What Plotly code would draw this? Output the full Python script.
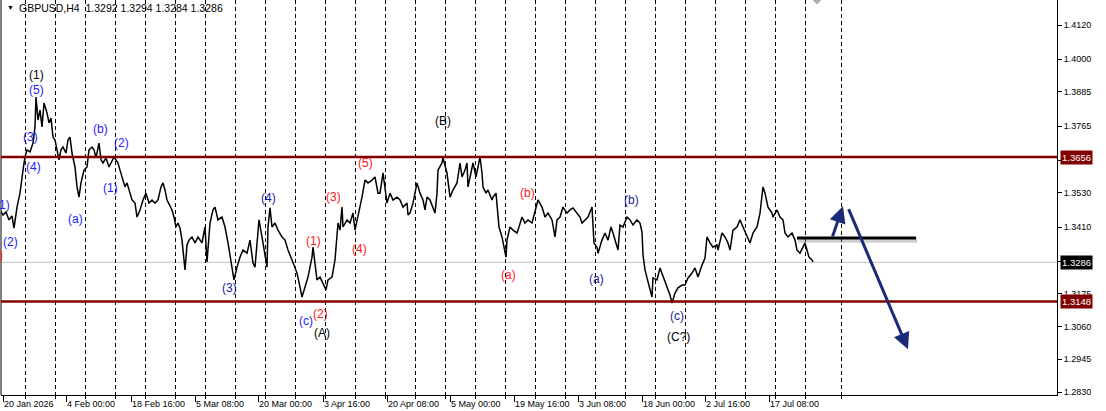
import plotly.graph_objects as go

# ---------------- data ----------------
bar_idx = [0, 3, 6, 9, 12, 14, 17, 20, 23, 25, 27, 30, 33, 35, 36, 38, 40, 42, 44, 47, 49, 51, 53, 55, 57, 59,
           61, 63, 66, 68, 70, 72, 75, 77, 79, 81, 84, 87, 89, 92, 94, 96, 99, 101, 103, 106, 109, 111, 114, 116,
           118, 120, 123, 125, 127, 130, 132, 135, 137, 140, 143, 146, 149, 152, 155, 158, 161, 163, 165, 167,
           170, 172, 174, 176, 178, 180, 182, 184, 185, 187, 189, 192, 195, 198, 202, 205, 207, 210, 213, 215,
           218, 222, 225, 228, 232, 234, 237, 240, 243, 247, 250, 253, 255, 257, 259, 262, 265, 267, 268, 270,
           272, 275, 278, 282, 285, 288, 292, 295, 297, 300, 302, 305, 308, 310, 312, 313, 315, 317, 320, 323,
           326, 328, 332, 335, 337, 338, 340, 342, 343, 347, 350, 353, 355, 358, 362, 365, 368, 372, 375, 378,
           380, 383, 387, 390, 393, 397, 400, 403, 407, 408, 410, 413, 417, 420, 423, 425, 427, 430, 433, 435,
           437, 438, 442, 443, 447, 448, 450, 453, 457, 460, 462, 465, 467, 468, 472, 473, 476, 478, 480, 482,
           483, 486, 488, 492, 493, 496, 497, 499, 502, 504, 506, 507, 510, 513, 517, 519, 522, 525, 528, 532,
           535, 538, 542, 545, 548, 552, 555, 557, 560, 563, 567, 570, 573, 577, 580, 582, 585, 588, 592, 593,
           594, 597, 598, 602, 605, 608, 611, 613, 617, 618, 620, 623, 627, 630, 633, 637, 640, 642, 643, 645,
           647, 650, 652, 653, 657, 660, 663, 667, 670, 672, 675, 678, 682, 685, 688, 692, 695, 698, 702, 705,
           707, 710, 713, 717, 718, 722, 725, 728, 730, 733, 737, 740, 743, 747, 750, 753, 757, 760, 762, 763,
           765, 768, 772, 773, 777, 780, 783, 785, 788, 792, 795, 797, 800, 803, 805, 807, 809, 812, 813]
close = [1.3470, 1.3452, 1.3463, 1.3435, 1.3449, 1.3406, 1.3480, 1.3529, 1.3610, 1.3656, 1.3681, 1.3674, 1.3705,
         1.3762, 1.3867, 1.3786, 1.3821, 1.3762, 1.3846, 1.3811, 1.3776, 1.3793, 1.3726, 1.3716, 1.3681, 1.3646,
         1.3681, 1.3691, 1.3670, 1.3716, 1.3726, 1.3670, 1.3621, 1.3551, 1.3515, 1.3565, 1.3610, 1.3621, 1.3681,
         1.3691, 1.3681, 1.3653, 1.3705, 1.3646, 1.3635, 1.3653, 1.3621, 1.3635, 1.3656, 1.3646, 1.3635, 1.3610,
         1.3575, 1.3551, 1.3565, 1.3529, 1.3505, 1.3494, 1.3445, 1.3470, 1.3505, 1.3529, 1.3494, 1.3505, 1.3494,
         1.3505, 1.3551, 1.3565, 1.3540, 1.3505, 1.3480, 1.3470, 1.3445, 1.3410, 1.3424, 1.3406, 1.3364, 1.3294,
         1.3259, 1.3347, 1.3364, 1.3375, 1.3354, 1.3375, 1.3354, 1.3410, 1.3287, 1.3424, 1.3470, 1.3480, 1.3435,
         1.3445, 1.3410, 1.3354, 1.3269, 1.3224, 1.3269, 1.3304, 1.3329, 1.3318, 1.3364, 1.3283, 1.3269, 1.3339,
         1.3435, 1.3375, 1.3318, 1.3269, 1.3410, 1.3477, 1.3410, 1.3424, 1.3399, 1.3375, 1.3364, 1.3329, 1.3294,
         1.3269, 1.3248, 1.3199, 1.3164, 1.3199, 1.3234, 1.3269, 1.3304, 1.3339, 1.3283, 1.3224, 1.3234, 1.3213,
         1.3189, 1.3224, 1.3234, 1.3294, 1.3389, 1.3424, 1.3399, 1.3480, 1.3410, 1.3435, 1.3424, 1.3459, 1.3399,
         1.3445, 1.3515, 1.3575, 1.3565, 1.3575, 1.3586, 1.3529, 1.3529, 1.3600, 1.3494, 1.3529, 1.3505, 1.3515,
         1.3505, 1.3480, 1.3494, 1.3452, 1.3459, 1.3494, 1.3565, 1.3529, 1.3505, 1.3470, 1.3515, 1.3505, 1.3480,
         1.3459, 1.3529, 1.3610, 1.3635, 1.3653, 1.3600, 1.3575, 1.3515, 1.3540, 1.3565, 1.3635, 1.3586, 1.3610,
         1.3635, 1.3551, 1.3621, 1.3635, 1.3586, 1.3621, 1.3656, 1.3600, 1.3551, 1.3529, 1.3540, 1.3505, 1.3515,
         1.3529, 1.3480, 1.3410, 1.3375, 1.3339, 1.3304, 1.3364, 1.3410, 1.3399, 1.3389, 1.3410, 1.3445, 1.3424,
         1.3435, 1.3424, 1.3470, 1.3505, 1.3480, 1.3445, 1.3459, 1.3435, 1.3375, 1.3435, 1.3445, 1.3480, 1.3459,
         1.3470, 1.3477, 1.3459, 1.3445, 1.3424, 1.3435, 1.3445, 1.3480, 1.3410, 1.3354, 1.3339, 1.3318, 1.3364,
         1.3389, 1.3364, 1.3410, 1.3389, 1.3339, 1.3329, 1.3417, 1.3410, 1.3445, 1.3435, 1.3417, 1.3435, 1.3424,
         1.3392, 1.3312, 1.3259, 1.3231, 1.3196, 1.3164, 1.3231, 1.3224, 1.3266, 1.3234, 1.3199, 1.3171, 1.3143,
         1.3178, 1.3196, 1.3206, 1.3206, 1.3231, 1.3248, 1.3266, 1.3234, 1.3276, 1.3301, 1.3375, 1.3354, 1.3339,
         1.3347, 1.3329, 1.3389, 1.3375, 1.3354, 1.3329, 1.3399, 1.3410, 1.3435, 1.3410, 1.3375, 1.3354, 1.3389,
         1.3410, 1.3459, 1.3529, 1.3551, 1.3529, 1.3480, 1.3459, 1.3445, 1.3470, 1.3445, 1.3435, 1.3389, 1.3375,
         1.3389, 1.3364, 1.3329, 1.3318, 1.3339, 1.3354, 1.3329, 1.3304, 1.3294, 1.3287]

price_ticks = [1.4120, 1.4000, 1.3885, 1.3765, 1.3645, 1.3530, 1.3410, 1.3290, 1.3175, 1.3060, 1.2945, 1.2830]
price_tick_labels = ["1.4120", "1.4000", "1.3885", "1.3765", "", "1.3530", "1.3410", "", "1.3175", "1.3060",
                     "1.2945", "1.2830"]
date_tick_bars = [3, 66, 131, 195, 258, 323, 387, 450, 514, 578, 642, 705, 769]
date_tick_labels = ["20 Jan 2026", "4 Feb 00:00", "18 Feb 16:00", "5 Mar 08:00", "20 Mar 00:00", "3 Apr 16:00",
                    "20 Apr 08:00", "5 May 00:00", "19 May 16:00", "3 Jun 08:00", "18 Jun 00:00", "2 Jul 16:00",
                    "17 Jul 08:00"]
separator_bars = [25.5, 55.5, 85.5, 115.5, 145.5, 175.5, 205.5, 235.5, 265.5, 295.5, 325.5, 355.5, 385.5,
                  415.5, 445.5, 475.5, 505.5, 535.5, 565.5, 595.5, 625.5, 655.5, 685.5, 715.5, 745.5, 775.5,
                  805.5, 841]

resistance = 1.3656
support = 1.3148
last_price = 1.3286
pivot_level = 1.3371
pivot_start, pivot_end = 797, 916
arrow_up = dict(x0=832, y0=1.3371, x1=843, y1=1.3483)
arrow_down = dict(x0=848, y0=1.3478, x1=908, y1=1.2980)

# wave labels: (text, bar, price, colour)
BLACK = "#000000"
BLUE = "#2323ff"
NAVY = "#1a1a9a"
RED = "#ff1a1a"
wave_labels = [
    ("(1)", 36, 1.3945, BLACK), ("(5)", 36, 1.3892, BLUE), ("(3)", 30, 1.3725, BLUE), ("(4)", 33, 1.3620, BLUE),
    ("1)", 4, 1.3487, BLUE), ("(2)", 10, 1.3357, BLUE), (")", 1, 1.3311, RED),
    ("(a)", 75, 1.3438, BLUE), ("(b)", 100, 1.3755, BLUE), ("(2)", 121, 1.3705, BLUE), ("(1)", 110, 1.3547, BLUE),
    ("(3)", 229, 1.3196, NAVY), ("(4)", 268, 1.3512, NAVY), ("(c)", 306, 1.3081, BLUE), ("(2)", 320, 1.3104, RED),
    ("(A)", 322, 1.3038, BLACK), ("(1)", 313, 1.3361, RED), ("(3)", 333, 1.3515, RED), ("(4)", 359, 1.3333, RED),
    ("(5)", 365, 1.3634, RED), ("(B)", 443, 1.3784, BLACK), ("(b)", 527, 1.3529, RED), ("(a)", 508, 1.3241, RED),
    ("(a)", 596, 1.3227, NAVY), ("(b)", 631, 1.3505, NAVY), ("(c)", 677, 1.3097, NAVY), ("(C?)", 678, 1.3024, BLACK),
]

title_text = "GBPUSD,H4  1.3292 1.3294 1.3284 1.3286"

# ---------------- figure ----------------
AXFONT = dict(family="Tahoma, Liberation Sans, Arial, sans-serif", size=9, color="#000000")
fig = go.Figure()
fig.add_trace(go.Scatter(x=bar_idx, y=close, mode="lines", line=dict(color="#000000", width=1.5),
                         hoverinfo="skip", showlegend=False))

shapes = []
# left frame
shapes.append(dict(type="line", xref="paper", yref="paper", x0=0, x1=0, y0=0, y1=1,
                   line=dict(color="#000000", width=1)))
# horizontal levels
for lvl in (resistance, support):
    shapes.append(dict(type="line", xref="paper", yref="y", x0=0, x1=1, y0=lvl, y1=lvl,
                       line=dict(color="#800000", width=2.5), layer="above"))
shapes.append(dict(type="line", xref="paper", yref="y", x0=0, x1=1, y0=last_price, y1=last_price,
                   line=dict(color="#c0c0c0", width=1), layer="below"))
# pivot line with shadow
shapes.append(dict(type="line", xref="x", yref="y", x0=pivot_start + 1, x1=pivot_end + 1,
                   y0=pivot_level - 0.0008, y1=pivot_level - 0.0008,
                   line=dict(color="rgba(120,120,120,0.35)", width=5)))
shapes.append(dict(type="line", xref="x", yref="y", x0=pivot_start, x1=pivot_end, y0=pivot_level, y1=pivot_level,
                   line=dict(color="#000000", width=3)))
# chart shift marker
shapes.append(dict(type="path", xref="x", yref="paper", path="M 813 1 L 821 1 L 817 0.99 Z",
                   fillcolor="#b0b0b0", line=dict(color="#b0b0b0", width=1)))
fig.update_layout(shapes=shapes)

annotations = []
for txt, xb, yp, col in wave_labels:
    annotations.append(dict(x=xb, y=yp, xref="x", yref="y", text=txt, showarrow=False,
                            font=dict(family="Liberation Sans, Arial, sans-serif", size=12, color=col)))
# arrows
for a in (arrow_up, arrow_down):
    annotations.append(dict(x=a["x1"], y=a["y1"], ax=a["x0"], ay=a["y0"], xref="x", yref="y", axref="x",
                            ayref="y", text="", showarrow=True, arrowhead=2, arrowsize=1.1, arrowwidth=3,
                            arrowcolor="#1c2a7a"))
# price boxes
for lvl, bg in ((resistance, "#800000"), (support, "#800000"), (last_price, "#000000")):
    annotations.append(dict(x=1, y=lvl, xref="paper", yref="y", xanchor="left", yanchor="middle", xshift=3,
                            text=f"{lvl:.4f}", showarrow=False, bgcolor=bg, borderpad=1,
                            font=dict(family=AXFONT["family"], size=9.5, color="#ffffff")))
# title
annotations.append(dict(x=0, y=1, xref="paper", yref="paper", xanchor="left", yanchor="top", xshift=4, yshift=-1,
                        text="▼", showarrow=False, font=dict(size=7, color="#000000")))
annotations.append(dict(x=0, y=1, xref="paper", yref="paper", xanchor="left", yanchor="top", xshift=16, yshift=0,
                        text=title_text, showarrow=False,
                        font=dict(family="Tahoma, Liberation Sans, Arial, sans-serif", size=10.5, color="#000000")))
fig.update_layout(annotations=annotations)

fig.update_layout(
    width=1106, height=411,
    margin=dict(l=1, r=49, t=0, b=16, pad=0),
    paper_bgcolor="#ffffff", plot_bgcolor="#ffffff",
    showlegend=False,
    xaxis=dict(range=[1, 1057], showgrid=False, zeroline=False, showline=True, linecolor="#000000", linewidth=1,
               tickmode="array", tickvals=date_tick_bars, ticktext=date_tick_labels, ticks="outside",
               ticklen=6, tickcolor="#000000", ticklabelposition="outside right", tickfont=AXFONT,
               minor=dict(tickmode="array", tickvals=separator_bars, ticks="outside", ticklen=3,
                          tickcolor="#000000", showgrid=True, gridcolor="#000000", gridwidth=1,
                          griddash="4px,3px")),
    yaxis=dict(range=[1.28195, 1.42079], side="right", showgrid=False, zeroline=False, showline=True,
               linecolor="#000000", linewidth=1, tickmode="array", tickvals=price_ticks,
               ticktext=price_tick_labels, ticks="outside", ticklen=4, tickcolor="#000000",
               tickfont=AXFONT),
)

fig.write_html("out.html")
